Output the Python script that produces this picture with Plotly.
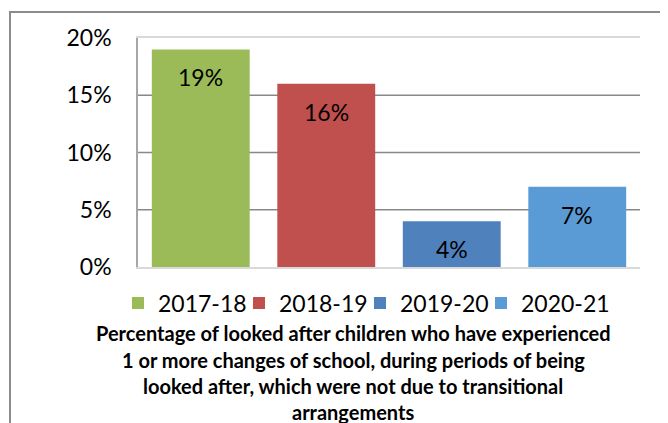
import plotly.graph_objects as go

years = ["2017-18", "2018-19", "2019-20", "2020-21"]
values = [19, 16, 4, 7]
colors = ["#9BBB59", "#C0504D", "#4F81BD", "#5B9BD5"]
y_ticks = [0, 5, 10, 15, 20]
y_tick_labels = ["0%", "5%", "10%", "15%", "20%"]
title_lines = [
    "Percentage of looked after children who have experienced",
    "1 or more changes of school, during periods of being",
    "looked after, which were not due to transitional",
    "arrangements",
]

FONT = "Lato"
H, W = 423, 668
OFF = 8  # page body margin
ml, mt = 138 - OFF, 38 - OFF
pw, ph = 502, 229
mr = W - ml - pw
mb = H - mt - ph


def py(px):
    # screen pixel y -> paper y
    return (mt + ph - (px - OFF)) / ph


def pxx(px):
    return (px - OFF - ml) / pw


fig = go.Figure()
for yr, v, c in zip(years, values, colors):
    fig.add_trace(go.Bar(x=[yr], y=[v], name=yr, marker=dict(color=c, line=dict(width=0)),
                         width=0.78, showlegend=True))
# invisible spacer entry so the last legend label is not clipped
fig.add_trace(go.Bar(x=[None], y=[None], name=" ", opacity=0,
                     marker=dict(color="rgba(0,0,0,0)", line=dict(width=0, color="rgba(0,0,0,0)")),
                     showlegend=True, hoverinfo="skip"))

annotations = []
for yr, v in zip(years, values):
    annotations.append(dict(x=yr, y=v, xref="x", yref="y", text=f"{v}%", showarrow=False,
                            yanchor="middle", yshift=-28,
                            font=dict(family=FONT, size=23, color="#000000")))

line_y_px = [333, 360, 386, 412]
for txt, ypx in zip(title_lines, line_y_px):
    annotations.append(dict(x=pxx(353), y=py(ypx), xref="paper", yref="paper", text=f"<b>{txt}</b>",
                            showarrow=False, xanchor="center", yanchor="middle",
                            font=dict(family=FONT, size=20, color="#000000")))

shapes = []
for t in y_ticks[1:-1]:
    shapes.append(dict(type="line", xref="paper", yref="y", x0=0, x1=1, y0=t, y1=t,
                       line=dict(color="#888888", width=1.5), layer="below"))
# outer chart border
shapes.append(dict(type="rect", xref="paper", yref="paper",
                   x0=pxx(10), x1=pxx(W + 30),
                   y0=py(H + 30), y1=py(12),
                   line=dict(color="#8c8c8c", width=2), fillcolor="rgba(0,0,0,0)", layer="below"))

fig.update_layout(
    width=W, height=H,
    margin=dict(l=ml, r=mr, t=mt, b=mb, autoexpand=False),
    paper_bgcolor="white", plot_bgcolor="white",
    barmode="overlay",
    showlegend=True,
    legend=dict(orientation="h", x=pxx(118), xanchor="left", y=py(303), yanchor="middle",
                font=dict(family=FONT, size=23, color="#000000"), traceorder="normal",
                entrywidth=76, entrywidthmode="pixels", itemclick=False,
                bgcolor="rgba(0,0,0,0)"),
    annotations=annotations,
    shapes=shapes,
    xaxis=dict(showticklabels=False, showgrid=False, zeroline=False, showline=True, mirror=True,
               linecolor="#d9d9d9", linewidth=1.5, ticks=""),
    yaxis=dict(range=[0, 20], tickvals=y_ticks, ticktext=y_tick_labels, showgrid=False,
               zeroline=False, showline=True, linecolor="#a6a6a6", linewidth=1.5, ticks="",
               ticklabelstandoff=20, tickfont=dict(family=FONT, size=23, color="#000000")),
    font=dict(family=FONT),
)

fig.write_html("out.html")
